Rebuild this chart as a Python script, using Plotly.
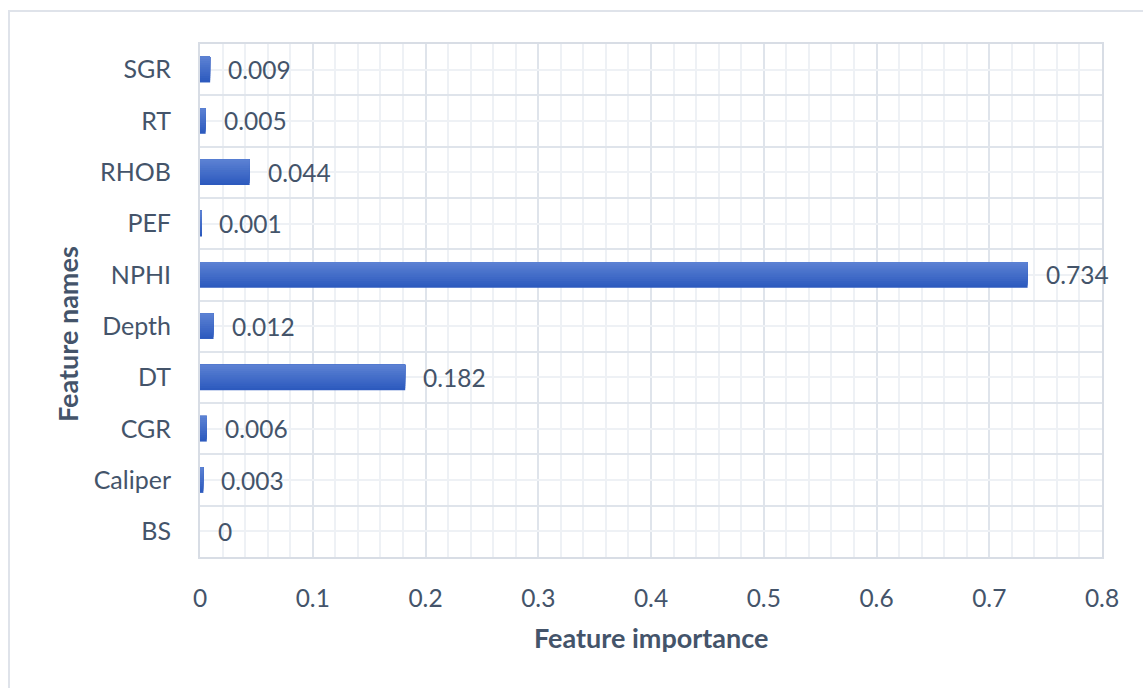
import plotly.graph_objects as go

features = ["BS", "Caliper", "CGR", "DT", "Depth", "NPHI", "PEF", "RHOB", "RT", "SGR"]
importance = [0, 0.003, 0.006, 0.182, 0.012, 0.734, 0.001, 0.044, 0.005, 0.009]
x_ticks = [0, 0.1, 0.2, 0.3, 0.4, 0.5, 0.6, 0.7, 0.8]
x_tick_labels = ["0", "0.1", "0.2", "0.3", "0.4", "0.5", "0.6", "0.7", "0.8"]

TEXT = "#44546a"
FONT = "Lato"
W, H = 1143, 688
L, R, T, B = 200, 41, 44, 131

pos = list(range(len(features)))

fig = go.Figure()

# gradient bars built from stacked overlapping strips (bottom dark -> top light)
n = 12
bw = 0.5
top = (0x5b, 0x81, 0xd3)
bot = (0x2d, 0x5a, 0xbe)
for i in range(n):
    f = i / (n - 1)
    c = tuple(round(bot[k] + (top[k] - bot[k]) * f) for k in range(3))
    start = -bw / 2 + i * bw / n
    fig.add_trace(go.Bar(
        y=pos, x=importance, orientation="h",
        width=bw / 2 - start, offset=start,
        marker=dict(color="rgb(%d,%d,%d)" % c, line=dict(width=0)),
        showlegend=False, hoverinfo="skip",
    ))

fig.update_layout(
    width=W, height=H,
    margin=dict(l=L, r=R, t=T, b=B, pad=0),
    paper_bgcolor="white", plot_bgcolor="white",
    barmode="overlay",
    font=dict(family=FONT, color=TEXT, size=24),
    showlegend=False,
)

fig.update_xaxes(
    range=[0, 0.8], tickvals=x_ticks, ticktext=x_tick_labels,
    showgrid=True, gridcolor="#dfe4eb", gridwidth=2,
    minor=dict(tick0=0, dtick=0.02, showgrid=True, gridcolor="#eef1f5", gridwidth=1.5),
    zeroline=False, showline=True, linecolor="#d8dde5", linewidth=2, mirror=True,
    ticks="", ticklabelstandoff=19, tickfont=dict(size=24.5, color=TEXT),
)
fig.update_yaxes(
    range=[-0.5, len(features) - 0.5], tickvals=pos, ticktext=features,
    showgrid=True, gridcolor="#eef1f5", gridwidth=1.5,
    minor=dict(tickmode="linear", tick0=0.5, dtick=1, showgrid=True, gridcolor="#dfe4eb", gridwidth=2),
    zeroline=False, showline=True, linecolor="#d8dde5", linewidth=2, mirror=True,
    ticks="", ticklabelstandoff=22, tickfont=dict(size=25, color=TEXT),
)

# value labels
for p, v in zip(pos, importance):
    fig.add_annotation(
        x=v, y=p, xref="x", yref="y", text=f"{v:g}", showarrow=False,
        xanchor="left", yanchor="middle", xshift=16, font=dict(size=24.5, color=TEXT),
    )

pw = W - L - R
ph = H - T - B
def px_x(x):
    return (x - L) / pw
def px_y(y):
    return (H - B - y) / ph

# axis titles
fig.add_annotation(x=px_x(651), y=px_y(637), xref="paper", yref="paper",
                   text="<b>Feature importance</b>", showarrow=False,
                   xanchor="center", yanchor="middle", font=dict(size=27, color=TEXT))
fig.add_annotation(x=px_x(67), y=px_y(334), xref="paper", yref="paper",
                   text="<b>Feature names</b>", showarrow=False, textangle=-90,
                   xanchor="center", yanchor="middle", font=dict(size=27, color=TEXT))

# outer chart border
fig.add_shape(type="rect", xref="paper", yref="paper",
              x0=px_x(9), x1=px_x(1160), y0=px_y(11), y1=px_y(720),
              line=dict(color="#dfe3ea", width=2), fillcolor="rgba(0,0,0,0)", layer="below")

fig.write_html("out.html")
